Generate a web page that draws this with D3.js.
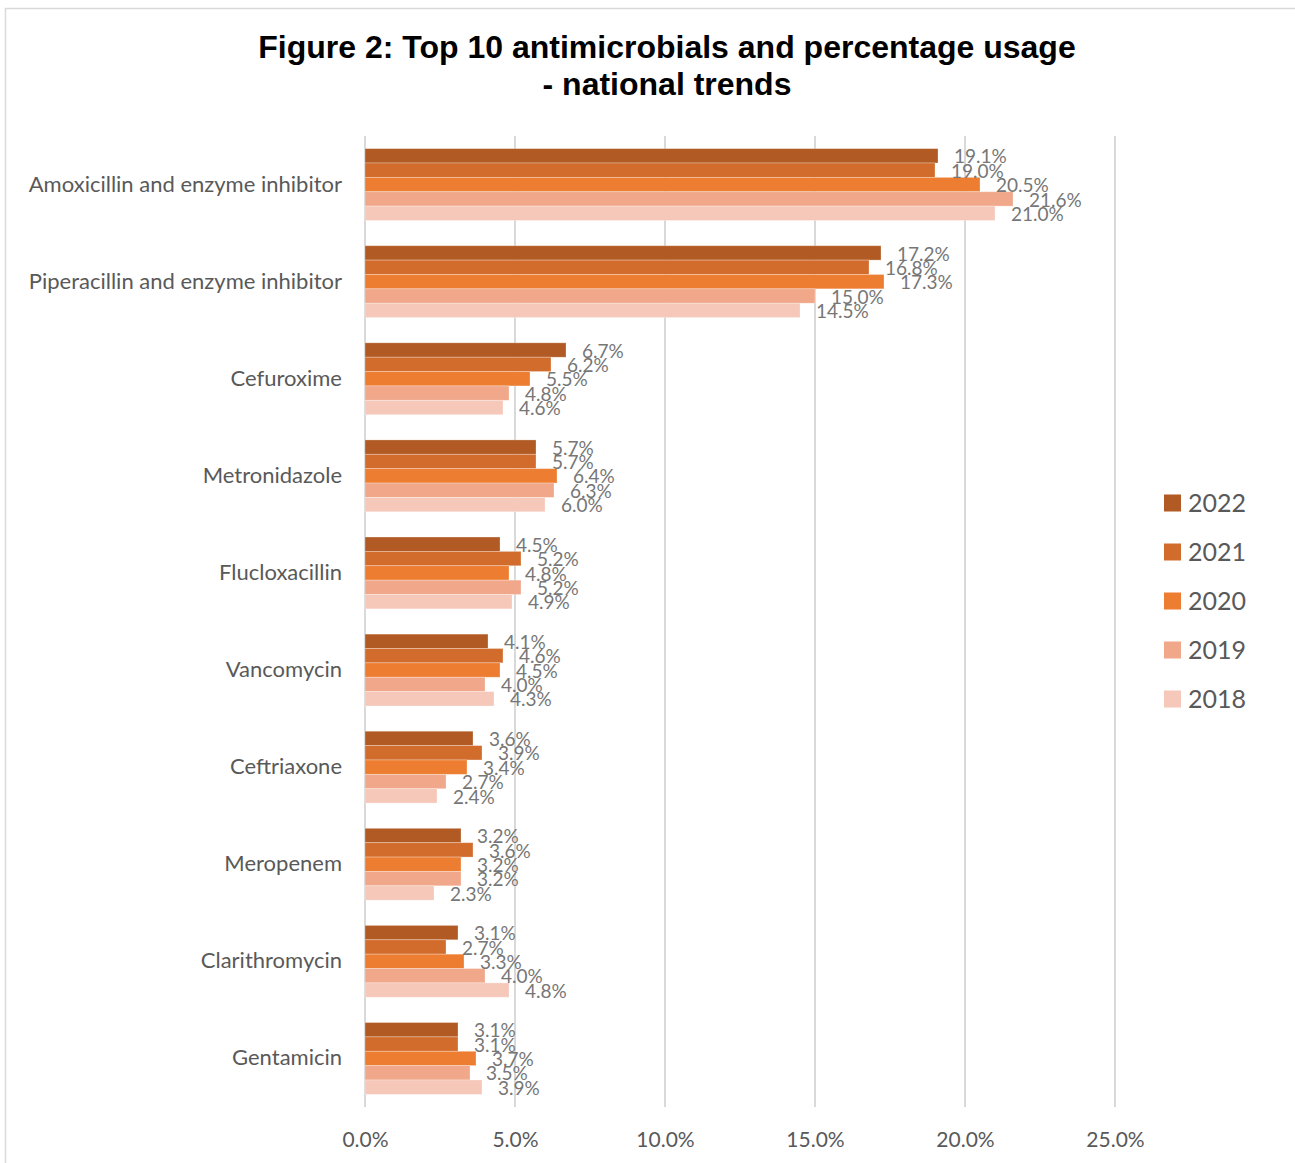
<!DOCTYPE html>
<html>
<head>
<meta charset="utf-8">
<script src="https://cdn.jsdelivr.net/npm/d3@7"></script>
<style>
  body { margin: 0; background: #fff; }
  svg { display: block; }
</style>
</head>
<body>
<div id="chart"></div>
<script>
// chart data
var categories = ["Amoxicillin and enzyme inhibitor", "Piperacillin and enzyme inhibitor", "Cefuroxime",
  "Metronidazole", "Flucloxacillin", "Vancomycin", "Ceftriaxone", "Meropenem", "Clarithromycin", "Gentamicin"];
var years = ["2022", "2021", "2020", "2019", "2018"];
var values2022 = [19.1, 17.2, 6.7, 5.7, 4.5, 4.1, 3.6, 3.2, 3.1, 3.1];
var values2021 = [19.0, 16.8, 6.2, 5.7, 5.2, 4.6, 3.9, 3.6, 2.7, 3.1];
var values2020 = [20.5, 17.3, 5.5, 6.4, 4.8, 4.5, 3.4, 3.2, 3.3, 3.7];
var values2019 = [21.6, 15.0, 4.8, 6.3, 5.2, 4.0, 2.7, 3.2, 4.0, 3.5];
var values2018 = [21.0, 14.5, 4.6, 6.0, 4.9, 4.3, 2.4, 2.3, 4.8, 3.9];
var xTicks = [0, 5, 10, 15, 20, 25];

var seriesValues = [values2022, values2021, values2020, values2019, values2018];
var colors = ["#b15a23", "#d26c2c", "#ed7d31", "#f1a78a", "#f6c8b9"];

var W = 1295, H = 1163;
var svg = d3.select("#chart").append("svg")
  .attr("width", W).attr("height", H);

// outer frame
svg.append("rect")
  .attr("x", 5.5).attr("y", 8.5)
  .attr("width", W + 10).attr("height", H + 10)
  .attr("fill", "none").attr("stroke", "#d9d9d9").attr("stroke-width", 1.5);

// title
var title = svg.append("text")
  .attr("text-anchor", "middle")
  .attr("font-family", "'Liberation Sans', Arial, sans-serif")
  .attr("font-weight", "bold").attr("font-size", 32)
  .attr("fill", "#000");
title.append("tspan").attr("x", 667).attr("y", 58).text("Figure 2: Top 10 antimicrobials and percentage usage");
title.append("tspan").attr("x", 667).attr("y", 95).text("- national trends");

var x = d3.scaleLinear().domain([0, 25]).range([365, 1115]);
var y = d3.scaleBand().domain(categories).range([136, 1107]).paddingInner(0.26).paddingOuter(0.13);
var ySub = d3.scaleBand().domain(years).range([0, y.bandwidth()]);

// gridlines
svg.append("g").selectAll("line")
  .data(xTicks)
  .enter().append("line")
    .attr("x1", function(d) { return x(d); })
    .attr("x2", function(d) { return x(d); })
    .attr("y1", 136).attr("y2", 1107)
    .attr("stroke", "#d9d9d9").attr("stroke-width", 2);

// x axis labels
var xAxis = svg.append("g")
  .attr("transform", "translate(0,1107)")
  .call(d3.axisBottom(x).tickValues(xTicks).tickSize(0).tickPadding(25)
    .tickFormat(function(d) { return d.toFixed(1) + "%"; }));
xAxis.select(".domain").remove();
xAxis.selectAll("text")
  .attr("font-family", "Lato, 'Open Sans', sans-serif")
  .attr("font-size", 21).attr("fill", "#595959");

// category labels
var yAxis = svg.append("g")
  .attr("transform", "translate(342,0)")
  .call(d3.axisLeft(y).tickSize(0).tickPadding(0));
yAxis.select(".domain").remove();
yAxis.selectAll("text")
  .attr("font-family", "Lato, 'Open Sans', sans-serif")
  .attr("font-size", 22).attr("fill", "#595959");

// bars
var groups = svg.append("g").selectAll("g")
  .data(categories)
  .enter().append("g")
    .attr("transform", function(d) { return "translate(0," + y(d) + ")"; });

groups.each(function(cat, ci) {
  var g = d3.select(this);
  var rows = years.map(function(yr, si) { return { year: yr, value: seriesValues[si][ci], color: colors[si] }; });
  g.selectAll("rect")
    .data(rows)
    .enter().append("rect")
      .attr("x", x(0))
      .attr("y", function(d) { return ySub(d.year); })
      .attr("width", function(d) { return x(d.value) - x(0); })
      .attr("height", ySub.bandwidth())
      .attr("fill", function(d) { return d.color; })
      .attr("stroke", "#fff").attr("stroke-opacity", 0.35).attr("stroke-width", 0.8);
  g.selectAll("text")
    .data(rows)
    .enter().append("text")
      .attr("x", function(d) { return x(d.value) + 16; })
      .attr("y", function(d) { return ySub(d.year) + ySub.bandwidth() / 2 + 1; })
      .attr("dy", "0.35em")
      .attr("font-family", "Lato, 'Open Sans', sans-serif")
      .attr("font-size", 19).attr("fill", "#767676")
      .text(function(d) { return d.value.toFixed(1) + "%"; });
});

// legend
var legend = svg.append("g").selectAll("g")
  .data(years)
  .enter().append("g")
    .attr("transform", function(d, i) { return "translate(1164," + (503 + i * 49) + ")"; });
legend.append("rect")
  .attr("x", 0).attr("y", -8.5).attr("width", 17).attr("height", 17)
  .attr("fill", function(d, i) { return colors[i]; });
legend.append("text")
  .attr("x", 24).attr("y", 0).attr("dy", "0.35em")
  .attr("font-family", "Lato, 'Open Sans', sans-serif")
  .attr("font-size", 25).attr("fill", "#595959")
  .text(function(d) { return d; });
</script>
</body>
</html>
